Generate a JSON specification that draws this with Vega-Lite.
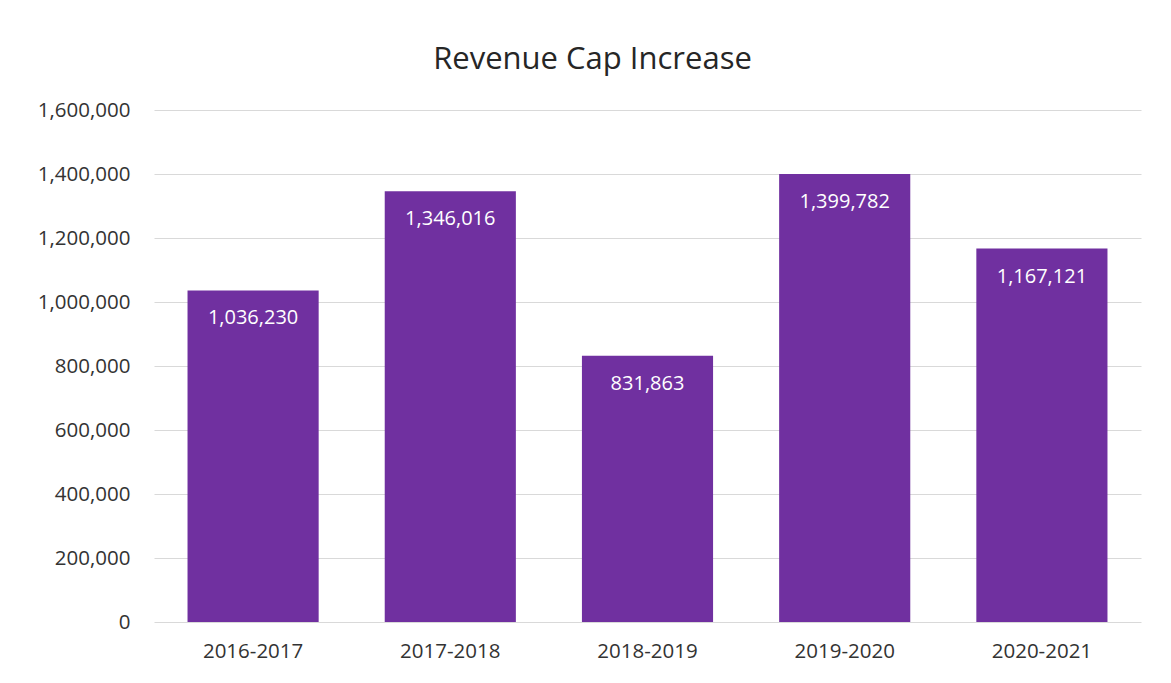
{
  "$schema": "https://vega.github.io/schema/vega-lite/v6.json",
  "width": 987,
  "height": 512,
  "autosize": {"type": "none"},
  "padding": {"left": 154, "top": 110, "right": 30, "bottom": 61},
  "background": "#ffffff",
  "title": {
    "text": "Revenue Cap Increase",
    "fontSize": 31,
    "font": "Open Sans",
    "fontWeight": "normal",
    "color": "#262626",
    "anchor": "middle",
    "dx": -55,
    "offset": 24
  },
  "data": {
    "values": [
      {"year": "2016-2017", "value": 1036230},
      {"year": "2017-2018", "value": 1346016},
      {"year": "2018-2019", "value": 831863},
      {"year": "2019-2020", "value": 1399782},
      {"year": "2020-2021", "value": 1167121}
    ]
  },
  "encoding": {
    "x": {
      "field": "year",
      "type": "nominal",
      "sort": null,
      "scale": {"paddingInner": 0.335, "paddingOuter": 0.17},
      "axis": {
        "title": null,
        "labelAngle": 0,
        "labelFont": "Open Sans",
        "labelFontSize": 20.5,
        "labelColor": "#333333",
        "labelPadding": 19,
        "ticks": false,
        "domain": false,
        "grid": false
      }
    },
    "y": {
      "field": "value",
      "type": "quantitative",
      "scale": {"domain": [0, 1600000]},
      "axis": {
        "title": null,
        "values": [0, 200000, 400000, 600000, 800000, 1000000, 1200000, 1400000, 1600000],
        "format": ",d",
        "labelFont": "Open Sans",
        "labelFontSize": 20.5,
        "labelColor": "#333333",
        "labelPadding": 24,
        "ticks": false,
        "domain": false,
        "grid": true,
        "gridColor": "#d9d9d9",
        "gridWidth": 1.2
      }
    }
  },
  "layer": [
    {"mark": {"type": "bar", "color": "#7030A0"}},
    {
      "mark": {"type": "text", "color": "#ffffff", "font": "Open Sans", "fontSize": 20, "baseline": "middle", "dy": 28},
      "encoding": {"text": {"field": "value", "type": "quantitative", "format": ",d"}}
    }
  ],
  "config": {"view": {"stroke": null}}
}
